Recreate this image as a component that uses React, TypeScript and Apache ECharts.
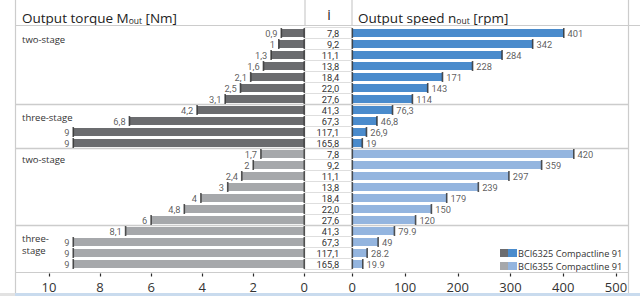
import React, { useEffect, useRef } from "react";
import * as echarts from "echarts";

// Gear ratios i (same for both products)
const ratios = ["7,8", "9,2", "11,1", "13,8", "18,4", "22,0", "27,6", "41,3", "67,3", "117,1", "165,8"];

// BCI6325 Compactline 91
const torqueA = [0.9, 1, 1.3, 1.6, 2.1, 2.5, 3.1, 4.2, 6.85, 9.05, 9.05];
const torqueALabels = ["0,9", "1", "1,3", "1,6", "2,1", "2,5", "3,1", "4,2", "6,8", "9", "9"];
const speedA = [401, 342, 284, 228, 171, 143, 114, 76.3, 46.8, 26.9, 19];
const speedALabels = ["401", "342", "284", "228", "171", "143", "114", "76,3", "46,8", "26,9", "19"];

// BCI6355 Compactline 91
const torqueB = [1.7, 2, 2.45, 3, 4.05, 4.7, 6, 7.0, 9.05, 9.05, 9.05];
const torqueBLabels = ["1,7", "2", "2,4", "3", "4", "4,8", "6", "8,1", "9", "9", "9"];
const speedB = [420, 359, 297, 239, 179, 150, 120, 79.9, 49, 28.2, 19.9];
const speedBLabels = ["420", "359", "297", "239", "179", "150", "120", "79.9", "49", "28.2", "19.9"];

const torqueTicks = [0, 2, 4, 6, 8, 10];
const speedTicks = [0, 100, 200, 300, 400, 500];

const productNames = ["BCI6325 Compactline 91", "BCI6355 Compactline 91"];

const COLORS = {
  torqueA: "#6b6c6f",
  torqueB: "#a6a8ab",
  speedA: "#4a8bcc",
  speedB: "#94b5df",
  tick: "#2a2a2a",
  text: "#333333",
  line: "#cccccc",
  thin: "#dedede",
};

const FONT = "'Open Sans', 'DejaVu Sans', sans-serif";
const SMALL_FONT = "Roboto, 'Liberation Sans', sans-serif";

export default function App() {
  const ref = useRef<HTMLDivElement>(null);

  useEffect(() => {
    const chart = echarts.init(ref.current!, null, { renderer: "svg" });

    const torqueVals = [...torqueA, ...torqueB];
    const torqueLbls = [...torqueALabels, ...torqueBLabels];
    const speedVals = [...speedA, ...speedB];
    const speedLbls = [...speedALabels, ...speedBLabels];
    const iLabels = [...ratios, ...ratios];
    const n = iLabels.length;
    const rowIds = iLabels.map((_, k) => "r" + k);
    const isB = (k: number) => k >= ratios.length;

    const TOP = 27.5;
    const BAND = 11;
    const GH = BAND * n;
    const X0T = 304.3;
    const X0S = 352.3;

    const yBase = {
      type: "category",
      data: rowIds,
      inverse: true,
      axisLine: { show: false },
      axisTick: { show: false },
      axisLabel: { show: false },
      splitLine: { show: false },
    };

    const xBase = (grid: number, max: number, inverse: boolean) => ({
      type: "value",
      gridIndex: grid,
      min: 0,
      max,
      interval: max / 5,
      inverse,
      position: "bottom",
      offset: 4,
      axisLine: { show: false },
      axisTick: { show: true, length: 3, lineStyle: { color: COLORS.tick, width: 1.2 } },
      axisLabel: { show: true, fontSize: 13, color: COLORS.text, fontFamily: FONT, margin: 7 },
      splitLine: { show: false },
    });

    const tickSymbol = { symbol: "rect", symbolSize: [1.6, 10] };

    const line = (x1: number, y1: number, x2: number, y2: number, w = 1.2, c = COLORS.line) => ({
      type: "line",
      shape: { x1, y1, x2, y2 },
      style: { stroke: c, lineWidth: w },
      silent: true,
      z: 1,
    });

    const sepYs = [7, 11, 18].map((r) => TOP + r * BAND);

    const valueLabel = {
      show: true,
      distance: 3,
      fontSize: 9.3,
      lineHeight: 10,
      color: COLORS.text,
      fontFamily: SMALL_FONT,
    };

    const headerRich = {
      a: { fontSize: 13.5, fontFamily: FONT, fill: "#222", lineHeight: 20, verticalAlign: "bottom" },
      s: { fontSize: 8.5, fontFamily: FONT, fill: "#222", lineHeight: 6, verticalAlign: "bottom" },
    };

    const option: any = {
      animation: false,
      backgroundColor: "#ffffff",
      textStyle: { fontFamily: FONT },
      grid: [
        { left: 49, width: X0T - 49, top: TOP, height: GH },
        { left: X0T, width: X0S - X0T, top: TOP, height: GH },
        { left: X0S, width: 263.7, top: TOP, height: GH },
      ],
      xAxis: [
        xBase(0, torqueTicks[torqueTicks.length - 1], true),
        { type: "value", gridIndex: 1, show: false, min: 0, max: 1 },
        xBase(2, speedTicks[speedTicks.length - 1], false),
      ],
      yAxis: [
        { ...yBase, gridIndex: 0 },
        {
          ...yBase,
          gridIndex: 1,
          splitLine: { show: true, interval: 0, lineStyle: { color: COLORS.thin, width: 1 } },
        },
        {
          ...yBase,
          gridIndex: 2,
          axisLabel: {
            show: true,
            interval: 0,
            margin: 13,
            fontSize: 9.3,
            lineHeight: 10,
            color: COLORS.text,
            fontFamily: SMALL_FONT,
            formatter: (_: string, idx: number) => iLabels[idx],
          },
        },
      ],
      series: [
        {
          type: "bar",
          xAxisIndex: 0,
          yAxisIndex: 0,
          barWidth: 8,
          data: torqueVals.map((v, k) => ({
            value: v,
            itemStyle: { color: isB(k) ? COLORS.torqueB : COLORS.torqueA },
          })),
        },
        {
          type: "bar",
          xAxisIndex: 2,
          yAxisIndex: 2,
          barWidth: 8,
          data: speedVals.map((v, k) => ({
            value: v,
            itemStyle: { color: isB(k) ? COLORS.speedB : COLORS.speedA },
          })),
        },
        {
          type: "scatter",
          xAxisIndex: 0,
          yAxisIndex: 0,
          ...tickSymbol,
          itemStyle: { color: COLORS.tick },
          data: torqueVals.map((v, k) => [v, k]),
          label: {
            ...valueLabel,
            position: "left",
            formatter: (p: any) => torqueLbls[p.dataIndex],
          },
          z: 5,
        },
        {
          type: "scatter",
          xAxisIndex: 0,
          yAxisIndex: 0,
          ...tickSymbol,
          itemStyle: { color: COLORS.tick },
          data: torqueVals.map((_, k) => [0, k]),
          z: 5,
        },
        {
          type: "scatter",
          xAxisIndex: 2,
          yAxisIndex: 2,
          ...tickSymbol,
          itemStyle: { color: COLORS.tick },
          data: speedVals.map((v, k) => [v, k]),
          label: {
            ...valueLabel,
            position: "right",
            formatter: (p: any) => speedLbls[p.dataIndex],
          },
          z: 5,
        },
        {
          type: "scatter",
          xAxisIndex: 2,
          yAxisIndex: 2,
          ...tickSymbol,
          itemStyle: { color: COLORS.tick },
          data: speedVals.map((_, k) => [0, k]),
          z: 5,
        },
      ],
      graphic: [
        { type: "rect", shape: { x: 0, y: 293, width: 15, height: 3 }, style: { fill: "#e2e2e2" }, silent: true },
        { type: "rect", shape: { x: 15, y: 293, width: 625, height: 3 }, style: { fill: "#c9dbee" }, silent: true },
        line(15.5, 0, 15.5, 293),
        line(628.5, 0, 628.5, 293),
        line(15, 25.5, 640, 25.5),
        line(305, 0, 305, 25.5),
        line(352, 0, 352, 25.5),
        line(15, 272.5, 628.5, 272.5),
        ...sepYs.map((y) => line(15, y, 628.5, y, 1.5)),
        {
          type: "text",
          x: 22,
          y: 14.5,
          style: {
            text: "{a|Output torque M}{s|out}{a| [Nm]}",
            verticalAlign: "middle",
            fill: "#222",
            rich: headerRich,
          },
        },
        {
          type: "text",
          x: 329,
          y: 14.5,
          style: { text: "i", fontSize: 14, fontFamily: FONT, fill: "#222", align: "center", verticalAlign: "middle" },
        },
        {
          type: "text",
          x: 358,
          y: 14.5,
          style: {
            text: "{a|Output speed n}{s|out}{a| [rpm]}",
            verticalAlign: "middle",
            fill: "#222",
            rich: headerRich,
          },
        },
        ...[
          { t: "two-stage", y: 39 },
          { t: "three-stage", y: 117.5 },
          { t: "two-stage", y: 159 },
          { t: "three-", y: 238.5 },
          { t: "stage", y: 250.5 },
        ].map((g) => ({
          type: "text",
          x: 22,
          y: g.y,
          style: { text: g.t, fontSize: 9.5, lineHeight: 11, fontFamily: FONT, fill: COLORS.text, verticalAlign: "middle" },
        })),
        { type: "rect", shape: { x: 500, y: 249, width: 8, height: 8 }, style: { fill: COLORS.torqueA } },
        { type: "rect", shape: { x: 508, y: 249, width: 9, height: 8 }, style: { fill: COLORS.speedA } },
        { type: "rect", shape: { x: 500, y: 262, width: 8, height: 8 }, style: { fill: COLORS.torqueB } },
        { type: "rect", shape: { x: 508, y: 262, width: 9, height: 8 }, style: { fill: COLORS.speedB } },
        ...productNames.map((name, k) => ({
          type: "text",
          x: 518,
          y: 253 + k * 13,
          style: { text: name, fontSize: 9.2, lineHeight: 11, fontFamily: FONT, fill: COLORS.text, verticalAlign: "middle" },
        })),
      ],
    };

    chart.setOption(option);
    return () => chart.dispose();
  }, []);

  return (
    <div
      ref={ref}
      style={{ position: "fixed", left: 0, top: 0, width: 640, height: 296, background: "#fff" }}
    />
  );
}
